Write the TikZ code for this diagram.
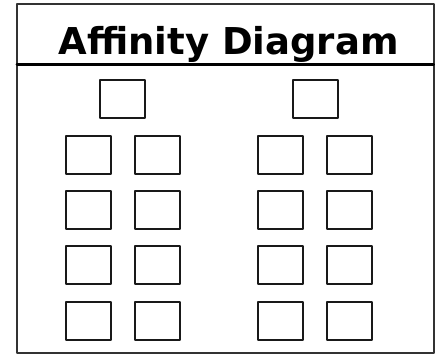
\documentclass[tikz,border=0pt]{standalone}
\usepackage{fontspec}
\setmainfont{DejaVu Sans}
\begin{document}
\begin{tikzpicture}[x=1pt, y=-1pt, line cap=round, line join=round,
    card/.style={draw=black!90, line width=2pt, minimum width=45pt, minimum height=38pt, inner sep=0pt}]
    \useasboundingbox (0,0) rectangle (435,354);
    \draw[black!80, line width=2pt] (17,3.5) rectangle (433.5,352.5);
    \draw[black, line width=3pt] (17,64.5) -- (433.5,64.5);
    \node[anchor=base, inner sep=0pt, font=\fontsize{37}{40}\selectfont\bfseries] (title) at (228.5,54) {Affinity Diagram};
    \node[card] (headL) at (122.5,99) {};
    \node[card] (headR) at (315,99) {};
    \foreach \c/\x in {1/88,2/157,3/280.5,4/349.5}
      \foreach \r in {1,2,3,4}
        \node[card] (card\c\r) at (\x,{154.8+55.3*(\r-1)}) {};
\end{tikzpicture}
\end{document}
